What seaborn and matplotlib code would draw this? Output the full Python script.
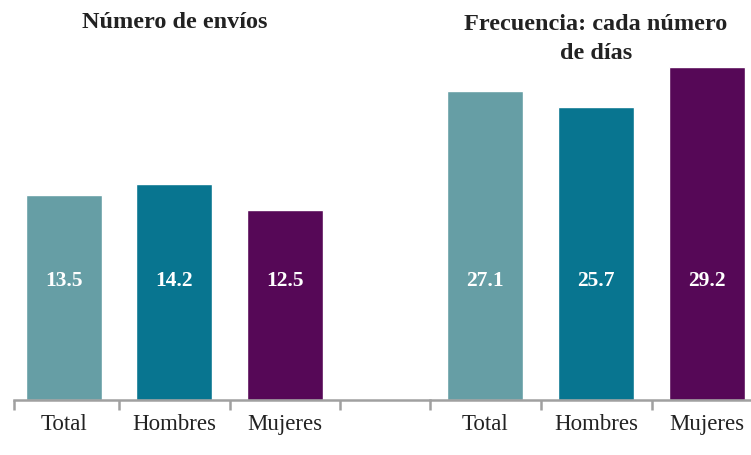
import matplotlib
matplotlib.use("Agg")
import matplotlib.pyplot as plt
import matplotlib.transforms as mtransforms
import seaborn as sns
import pandas as pd

categories = ["Total", "Hombres", "Mujeres"]
envios = [13.5, 14.2, 12.5]
frecuencia = [27.1, 25.7, 29.2]
titles = ["Número de envíos", "Frecuencia: cada número\nde días"]
colors = ["#669ea5", "#087590", "#560857"]

sns.set_theme(style="white")
plt.rcParams["font.family"] = ["Liberation Serif", "DejaVu Serif"]

W, H = 751, 455
fig = plt.figure(figsize=(W / 100, H / 100), dpi=100)

base = 400
top = 60
axh = (base - top) / H

# left axes: pixels 14 -> 430, unit 110.5 px, cat 0 center at 64
unitL = 110.5
xl0 = (14 - 64) / unitL
xl1 = (430 - 64) / unitL
axL = fig.add_axes([14 / W, 1 - base / H, (430 - 14) / W, axh])
# right axes: pixels 430 -> 751, unit 111 px, cat 0 center at 485
unitR = 111.0
xr0 = (430 - 485) / unitR
xr1 = (751 - 485) / unitR
axR = fig.add_axes([430 / W, 1 - base / H, (751 - 430) / W, axh])

specs = [
    (axL, envios, (xl0, xl1), 340 / 15.2, [xl0, 0.5, 1.5, 2.5]),
    (axR, frecuencia, (xr0, xr1), 340 / 11.39, [xr0, 0.5, 1.5]),
]

for ax, vals, xlim, ymax, majors in specs:
    df = pd.DataFrame({"cat": categories, "val": vals})
    sns.barplot(data=df, x="cat", y="val", hue="cat", palette=colors,
                width=76 / 110.5, legend=False, ax=ax, saturation=1)
    ax.set_xlim(*xlim)
    ax.set_ylim(0, ymax)
    ax.set_xlabel("")
    ax.set_ylabel("")
    ax.set_yticks([])
    for s in ["top", "right", "left"]:
        ax.spines[s].set_visible(False)
    ax.spines["bottom"].set_color("#a0a0a0")
    ax.spines["bottom"].set_linewidth(1.8)
    ax.set_xticks(majors)
    ax.set_xticklabels([""] * len(majors))
    ax.tick_params(axis="x", which="major", length=7, width=1.8,
                   color="#a0a0a0", direction="out", bottom=True)
    ax.set_xticks([0, 1, 2], minor=True)
    ax.set_xticklabels(categories, minor=True, fontsize=16.5, color="#222222")
    ax.tick_params(axis="x", which="minor", length=0, pad=10)
    ax.patch.set_alpha(0)
    trans = mtransforms.blended_transform_factory(ax.transData, ax.transAxes)
    for i, v in enumerate(vals):
        ax.text(i, (base - 281) / (base - top), f"{v:.1f}", transform=trans,
                ha="center", va="center", color="white", fontsize=15.5,
                fontweight="bold")

fig.text(175 / W, 1 - 23 / H, titles[0], ha="center", va="center",
         fontsize=17.5, fontweight="bold", color="#222222")
fig.text(596 / W, 1 - 39 / H, titles[1], ha="center", va="center",
         fontsize=17.5, fontweight="bold", color="#222222", linespacing=1.5)

fig.savefig("out.png", dpi=100, facecolor="white")
